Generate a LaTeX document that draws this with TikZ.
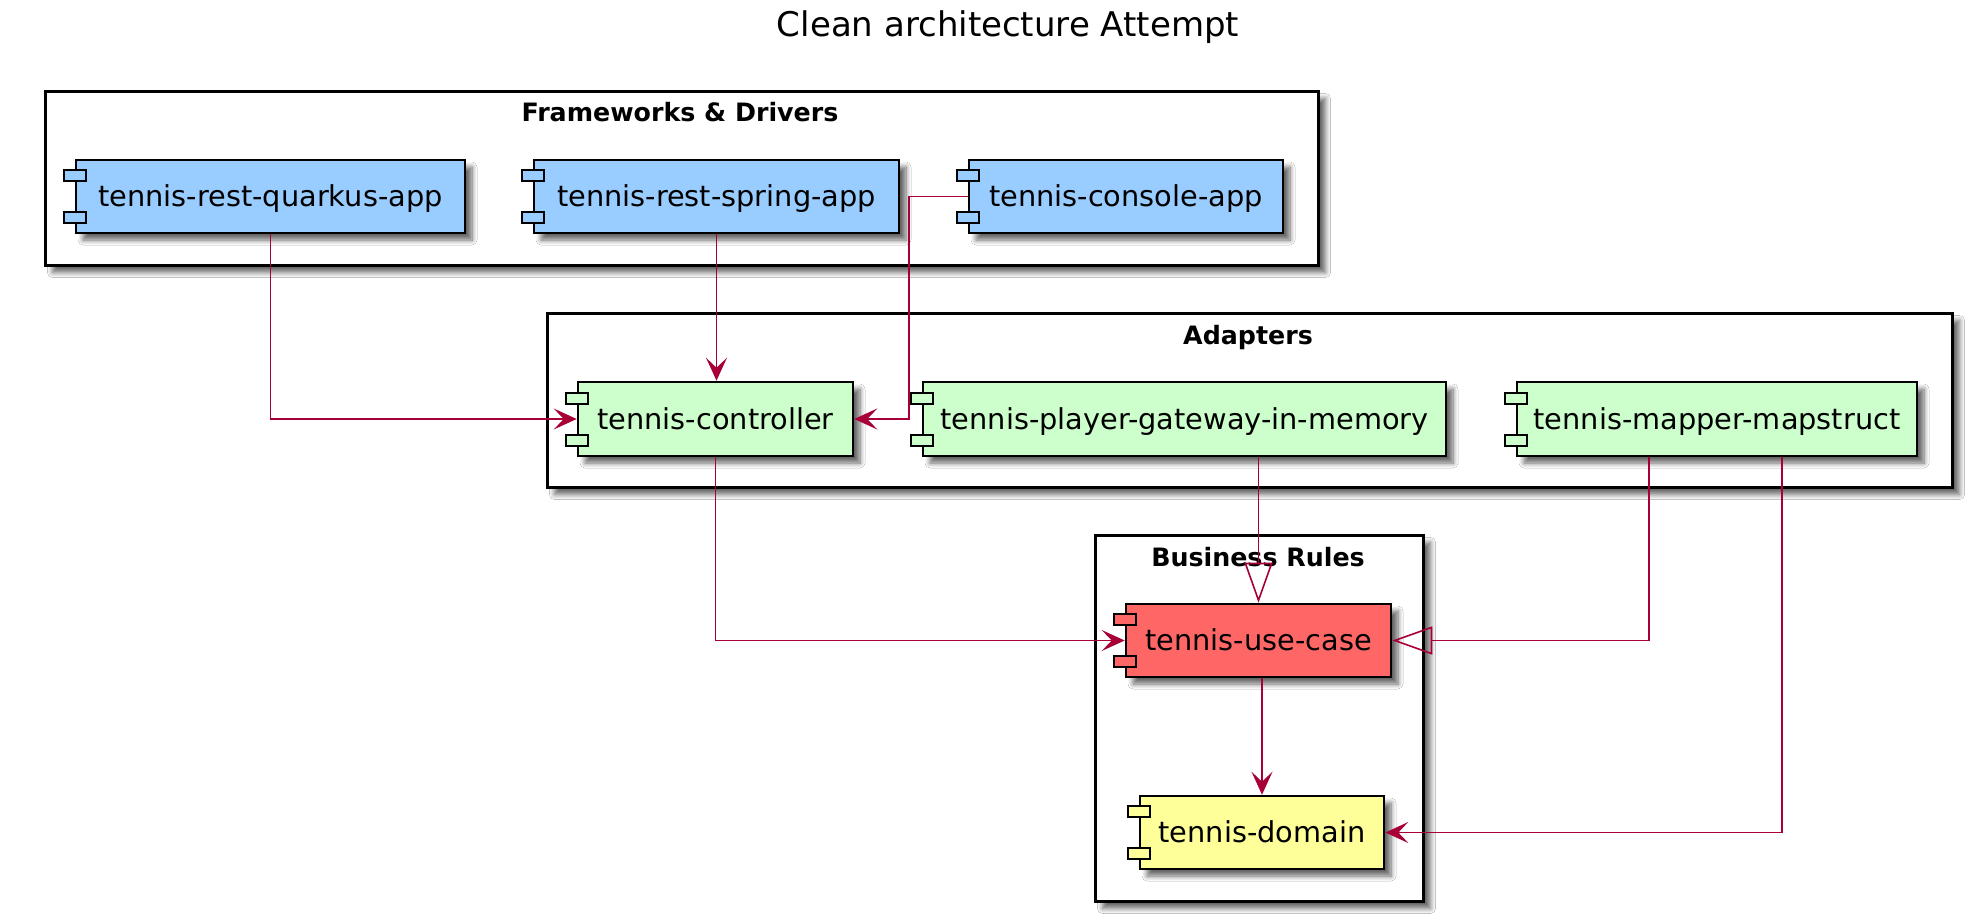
\documentclass[tikz,border=0pt]{standalone}
\usepackage{fontspec}
\setmainfont{DejaVu Sans}
\usetikzlibrary{arrows.meta,shadows.blur,calc}
\definecolor{arr}{HTML}{A80036}
\definecolor{cblue}{HTML}{99CCFF}
\definecolor{cgreen}{HTML}{CCFFCC}
\definecolor{cred}{HTML}{FF6666}
\definecolor{cyellow}{HTML}{FFFF99}
\newcommand\ports[2]{%
  \draw[line width=2pt, fill=#2] ($(#1.west)+(-11,-26.5)$) rectangle ++(22,11);
  \draw[line width=2pt, fill=#2] ($(#1.west)+(-11,15.5)$) rectangle ++(22,11);}
\begin{document}
\begin{tikzpicture}[x=1pt,y=-1pt,
  shad/.style={blur shadow={shadow xshift=7pt,shadow yshift=-7pt,shadow blur radius=5pt,shadow blur steps=8,shadow opacity=60}},
  frame/.style={draw, line width=3pt, fill=white, shad, anchor=north west, inner sep=0pt},
  comp/.style={draw, line width=2.6pt, inner sep=0pt, minimum height=73pt, text height=20pt, text depth=0pt,
    font=\fontsize{28.8}{30}\selectfont, shad},
  ftitle/.style={font=\fontsize{25.3}{28}\selectfont\bfseries, anchor=base, inner sep=0pt},
  conn/.style={draw=arr, line width=1.6pt},
  ar/.style={-{Stealth[length=23pt,width=21pt,inset=10pt]}},
  tri/.style={-{Triangle[open,length=40pt,width=28pt]}}
]
\fill[white] (0,0) rectangle (1968,920);
\useasboundingbox (0,0) rectangle (1968,920);

\node[font=\fontsize{34}{40}\selectfont, anchor=base, inner sep=0pt] (title) at (1008,37) {Clean architecture Attempt};

% frames
\node[frame, minimum width=1273pt, minimum height=174pt] (fd) at (44,90) {};
\node[frame, minimum width=1405pt, minimum height=174pt] (ad) at (546,312) {};
\node[frame, minimum width=328pt, minimum height=366pt] (br) at (1094,534) {};
\node[ftitle] (fdt) at (680,122) {Frameworks \& Drivers};
\node[ftitle] (adt) at (1248,344) {Adapters};
\node[ftitle] (brt) at (1258,566) {Business Rules};

% components
\node[comp, fill=cblue, minimum width=389pt] (q) at (270.5,196.5) {tennis-rest-quarkus-app};
\node[comp, fill=cblue, minimum width=365pt] (sp) at (716.5,196.5) {tennis-rest-spring-app};
\node[comp, fill=cblue, minimum width=314pt] (con) at (1126,196.5) {tennis-console-app};
\node[comp, fill=cgreen, minimum width=275pt, minimum height=74pt] (ctrl) at (715.5,419) {tennis-controller};
\node[comp, fill=cgreen, minimum width=523pt, minimum height=74pt] (gw) at (1184.5,419) {tennis-player-gateway-in-memory};
\node[comp, fill=cgreen, minimum width=400pt, minimum height=74pt] (mp) at (1717,419) {tennis-mapper-mapstruct};
\node[comp, fill=cred, minimum width=265pt] (uc) at (1258.5,640.5) {tennis-use-case};
\node[comp, fill=cyellow, minimum width=244pt] (dom) at (1262,832.5) {tennis-domain};
\ports{q}{cblue}
\ports{sp}{cblue}
\ports{con}{cblue}
\ports{ctrl}{cgreen}
\ports{gw}{cgreen}
\ports{mp}{cgreen}
\ports{uc}{cred}
\ports{dom}{cyellow}

% connectors
\draw[conn, ar] (q.south) |- (ctrl.west);
\draw[conn, ar] (sp.south) -- (sp.south |- ctrl.north);
\coordinate (cbend) at ($(con.west)+(-59,0)$);
\draw[conn, ar] (con.west) -- (cbend) |- (ctrl.east);
\draw[conn, ar] (ctrl.south) |- (uc.west);
\draw[conn, tri] (gw.south -| uc.north) -- (uc.north);
\coordinate (m1) at ($(mp.south)+(-68,0)$);
\coordinate (m2) at ($(mp.south)+(65,0)$);
\draw[conn, tri] (m1) |- (uc.east);
\draw[conn, ar] (m2) |- (dom.east);
\draw[conn, ar] (uc.south -| dom.north) -- (dom.north);
\end{tikzpicture}
\end{document}
